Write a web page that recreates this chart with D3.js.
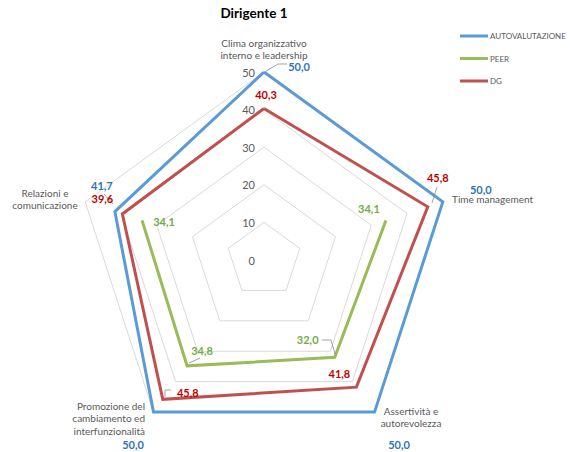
<!DOCTYPE html>
<html><head><meta charset="utf-8">
<script src="https://cdn.jsdelivr.net/npm/d3@7"></script>
<style>
html,body{margin:0;padding:0;background:#fff;}
svg{display:block;font-family:Lato,"Open Sans",sans-serif;}
</style></head>
<body>
<svg id="chart" width="570" height="452"></svg>
<script>
const title = "Dirigente 1";
const categories = [
  ["Clima organizzativo","interno e leadership"],
  ["Time management"],
  ["Assertività e","autorevolezza"],
  ["Promozione del","cambiamento ed","interfunzionalità"],
  ["Relazioni e","comunicazione"]
];
const seriesNames = ["AUTOVALUTAZIONE","PEER","DG"];
const autovalutazione = [50.0, 50.0, 50.0, 50.0, 41.7];
const peer = [null, 34.1, 32.0, 34.8, 34.1];
const dg = [40.3, 45.8, 41.8, 45.8, 39.6];
const ticks = [0, 10, 20, 30, 40, 50];

const lineColors = ["#5B9BD5", "#9BBB59", "#C0504D"];
const labelColors = ["#2E75B6", "#70AD47", "#C00000"];
const seriesValues = [autovalutazione, peer, dg];

// label offsets (layout) per series per category
const labelOffsets = [
  [[35,-6],[38,-12],[24.5,32],[-20.5,32],[-13,-26.5]],
  [[0,0],[-17,-12],[-27,-18],[15,-15],[22,1.6]],
  [[2,-13.5],[10,-29],[-17,-14],[25,-7],[-20,-15]]
];

const svg = d3.select("#chart");
const cx = 264, cy = 260, R = 188;
const r = d3.scaleLinear().domain([0, 50]).range([0, R]);
const n = categories.length;
const ang = d3.scaleLinear().domain([0, n]).range([0, 2 * Math.PI]);
const pt = (i, v) => {
  const a = ang(i);
  return [cx + r(v) * Math.sin(a), cy - r(v) * Math.cos(a)];
};

// grid pentagons
const g = svg.append("g");
ticks.filter(t => t > 0).forEach(t => {
  g.append("path")
    .attr("d", d3.line()(d3.range(n).map(i => pt(i, t))) + "Z")
    .attr("fill", "none").attr("stroke", "#d9d9d9").attr("stroke-width", 1);
});

// tick labels
g.selectAll(".tick").data(ticks).join("text")
  .attr("x", cx - 9).attr("y", d => cy - r(d))
  .attr("text-anchor", "end").attr("dominant-baseline", "central")
  .attr("font-size", 11).attr("fill", "#595959").text(d => d);

// series lines
const lineGen = d3.line().defined(d => d[2] != null).x(d => d[0]).y(d => d[1]);
seriesValues.forEach((vals, s) => {
  const pts = vals.map((v, i) => v == null ? [0, 0, null] : [...pt(i, v), v]);
  pts.push(pts[0]);
  svg.append("path").attr("d", lineGen(pts))
    .attr("fill", "none").attr("stroke", lineColors[s])
    .attr("stroke-width", 3).attr("stroke-linejoin", "miter");
});

// leader lines
const leaders = [
  [[266,71],[278,64],[287,64]],
  [[432,203],[437,187]],
  [[104,194],[113,204]],
  [[171,390],[165,390],[165,397]],
  [[189,363],[200,358]],
  [[322,340],[331,340],[335,354]]
];
leaders.forEach(l => svg.append("path").attr("d", d3.line()(l))
  .attr("fill", "none").attr("stroke", "#8c8c8c").attr("stroke-width", 0.8));

// data labels
const fmt = v => v.toFixed(1).replace(".", ",");
seriesValues.forEach((vals, s) => {
  vals.forEach((v, i) => {
    if (v == null) return;
    const p = pt(i, v);
    const o = labelOffsets[s][i];
    svg.append("text").attr("x", p[0] + o[0]).attr("y", p[1] + o[1])
      .attr("text-anchor", "middle").attr("dominant-baseline", "central")
      .attr("font-size", 11).attr("font-weight", "bold")
      .attr("fill", labelColors[s]).text(fmt(v));
  });
});

// category labels
const catPos = [
  {x: 264, y: 43, anchor: "middle"},
  {x: 452, y: 199, anchor: "start"},
  {x: 411, y: 411, anchor: "middle"},
  {x: 145, y: 406, anchor: "end"},
  {x: 45, y: 193, anchor: "middle"}
];
categories.forEach((lines, i) => {
  const t = svg.append("text").attr("font-size", 10).attr("fill", "#595959")
    .attr("text-anchor", catPos[i].anchor);
  lines.forEach((ln, k) => t.append("tspan").attr("x", catPos[i].x)
    .attr("y", catPos[i].y + k * 12.3).attr("dominant-baseline", "central").text(ln));
});

// title
svg.append("text").attr("x", 254).attr("y", 18).attr("text-anchor", "middle")
  .attr("font-size", 13.5).attr("font-weight", "bold").attr("fill", "#000").text(title);

// legend
const ly = d3.scalePoint().domain(seriesNames).range([36, 81]);
seriesNames.forEach((nm, s) => {
  svg.append("line").attr("x1", 460).attr("x2", 488).attr("y1", ly(nm)).attr("y2", ly(nm))
    .attr("stroke", lineColors[s]).attr("stroke-width", 3);
  svg.append("text").attr("x", 490).attr("y", ly(nm)).attr("dominant-baseline", "central")
    .attr("font-size", 8).attr("fill", "#595959").text(nm);
});
</script>
</body></html>
